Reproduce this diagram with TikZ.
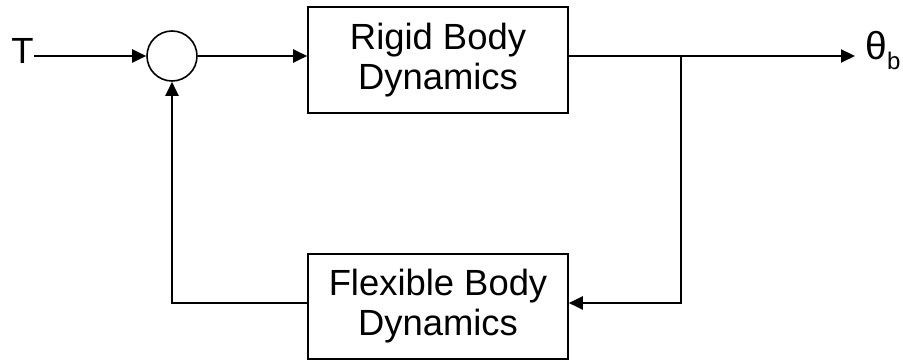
\documentclass[tikz,border=0pt]{standalone}
\usepackage{fontspec}
\setmainfont{Liberation Sans}
\usetikzlibrary{arrows.meta}
\begin{document}
\begin{tikzpicture}[x=0.5pt,y=-0.5pt,
  every node/.style={font=\fontsize{18.2pt}{20pt}\selectfont},
  blk/.style={draw, line width=0.8pt, minimum width=130pt, align=center, inner sep=0pt},
  arr/.style={line width=1pt, -{Triangle[length=7pt,width=6.5pt]}},
  ln/.style={line width=1pt}]
\useasboundingbox (0,0) rectangle (903,362);
\node[anchor=east, inner sep=0pt] (T) at (34,50.5) {T};
\node[draw, circle, line width=0.8pt, minimum size=25pt, inner sep=0pt] (sum) at (172,56) {};
\node[blk, minimum height=53pt] (rigid) at (438,60) {Rigid Body\\Dynamics};
\node[blk, minimum height=52.5pt] (flex) at (438,306.5) {Flexible Body\\Dynamics};
\node[anchor=west, inner sep=0pt] (theta) at (865,50.5) {\fontsize{19.5pt}{20pt}\selectfont θ\raisebox{-5pt}{\fontsize{12pt}{12pt}\selectfont b}};
\coordinate (j) at (681,56);
\coordinate (fb) at (681,303);
\draw[arr] (T.east |- sum.west) -- (sum.west);
\draw[arr] (sum.east) -- (sum.east -| rigid.west);
\draw[arr, shorten >=5pt] (sum.east -| rigid.east) -- (theta.west |- sum.east);
\draw[arr] (j) -- (fb) -- (fb -| flex.east);
\draw[arr] (flex.west |- fb) -| (sum.south);
\end{tikzpicture}
\end{document}
